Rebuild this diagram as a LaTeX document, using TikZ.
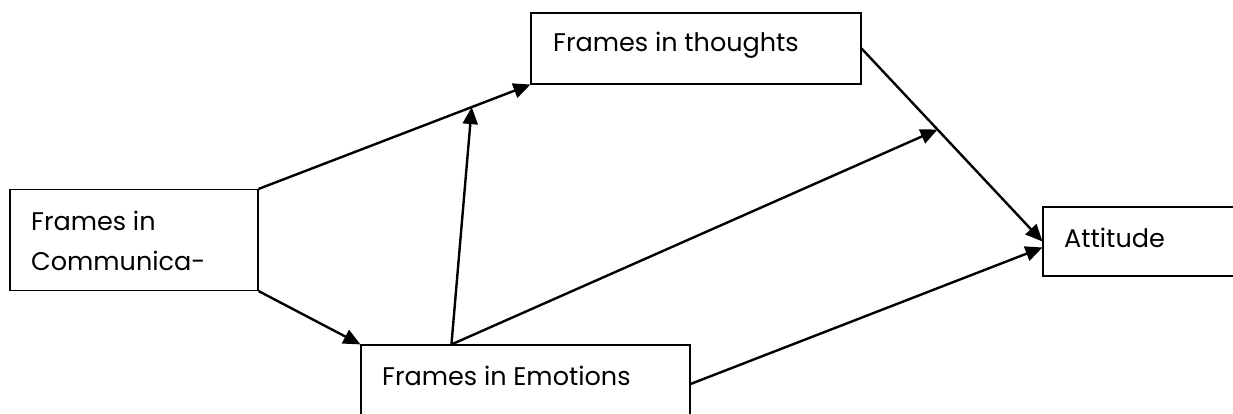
\documentclass[tikz,border=0pt]{standalone}
\usepackage{fontspec}
\setmainfont{Poppins}
\usetikzlibrary{arrows.meta,calc}
\begin{document}
\begin{tikzpicture}[x=1pt,y=-1pt,
  box/.style={draw,line width=1.1pt,rectangle,inner sep=0pt},
  lbl/.style={anchor=base west,inner sep=0pt,font=\fontsize{25.5}{30}\selectfont},
  conn/.style={line width=2.4pt,-{Triangle[length=17pt,width=15pt]}}]
\useasboundingbox (0,0) rectangle (1233,414);
\clip (0,0) rectangle (1233,414);
% boxes
\node[box,minimum width=330pt,minimum height=71pt] (th) at (696,48.5) {};
\node[box,minimum width=248pt,minimum height=101pt] (co) at (134,240) {};
\node[box,minimum width=329pt,minimum height=100pt] (em) at (525.5,395) {};
\node[box,minimum width=250pt,minimum height=69pt] (at) at (1168,241.5) {};
% labels
\node[lbl] (tht) at (553,52) {Frames in thoughts};
\node[lbl] (cot1) at (31,230) {Frames in};
\node[lbl] (cot2) at (31,270) {Communica-};
\node[lbl] (emt) at (382,385) {Frames in Emotions};
\node[lbl] (att) at (1064,247) {Attitude};
% connector anchors
\coordinate (emtop) at ($(em.north west)+(91,0)$);
\coordinate (m1) at ($(co.north east)!0.784!(th.south west)$);
\coordinate (m2) at ($(th.east)!0.42!(at.west)$);
\coordinate (atlow) at ($(at.west)+(0,6)$);
\coordinate (emr) at ($(em.east)+(0,-11)$);
% connectors
\draw[conn] (co.north east) -- (th.south west);
\draw[conn] (co.south east) -- (em.north west);
\draw[conn] (emtop) -- (m1);
\draw[conn] (emtop) -- (m2);
\draw[conn] (th.east) -- (at.west);
\draw[conn] (emr) -- (atlow);
\end{tikzpicture}
\end{document}
